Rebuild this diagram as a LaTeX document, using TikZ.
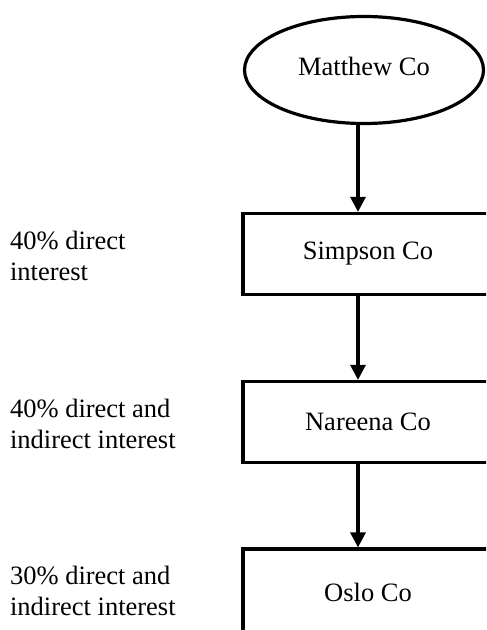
\documentclass[tikz,border=0pt]{standalone}
\usepackage{fontspec}
\setmainfont{Liberation Serif}
\usetikzlibrary{shapes.geometric,arrows.meta,calc}

\tikzset{
    company/.style={draw, line width=1.6pt, minimum width=125pt, minimum height=40.5pt, font=\fontsize{13.25}{15.25}\selectfont},
    parent/.style={draw, ellipse, line width=1.6pt, minimum width=119.5pt, minimum height=53.5pt, font=\fontsize{13.25}{15.25}\selectfont},
    owns/.style={line width=1.6pt, -{Triangle[length=7.5pt,width=7.5pt]}},
    share/.style={anchor=west, align=left, font=\fontsize{13.25}{15.25}\selectfont}
}

\begin{document}
\begin{tikzpicture}[x=0.5pt, y=-0.5pt]

\useasboundingbox (0,0) rectangle (486,630);
\clip (0,0) rectangle (486,630);

    % Companies
\node[parent] (matthew) at (364,70) {\raisebox{4pt}{Matthew Co}};
\node[company] (simpson) at (368,254) {Simpson Co};
\node[company] (nareena) at (368,422) {Nareena Co};
\node[company, minimum height=50pt] (oslo) at (368,599) {\raisebox{7pt}{Oslo Co}};

% Arrow column and label column
\coordinate (ax) at (358,0);
\coordinate (lx) at (3,0);

% Ownership arrows
\draw[owns] (matthew.south -| ax) -- (simpson.north -| ax);
\draw[owns] (simpson.south -| ax) -- (nareena.north -| ax);
\draw[owns] (nareena.south -| ax) -- (oslo.north -| ax);

% Labels for interests
\node[share] (int1) at ($(simpson.west -| lx)+(0,2)$) {40\% direct\\interest};
\node[share] (int2) at ($(nareena.west -| lx)+(0,2)$) {40\% direct and\\indirect interest};
\node[share] (int3) at ($(oslo.west -| lx)+(0,-8)$) {30\% direct and\\indirect interest};

\end{tikzpicture}
\end{document}
